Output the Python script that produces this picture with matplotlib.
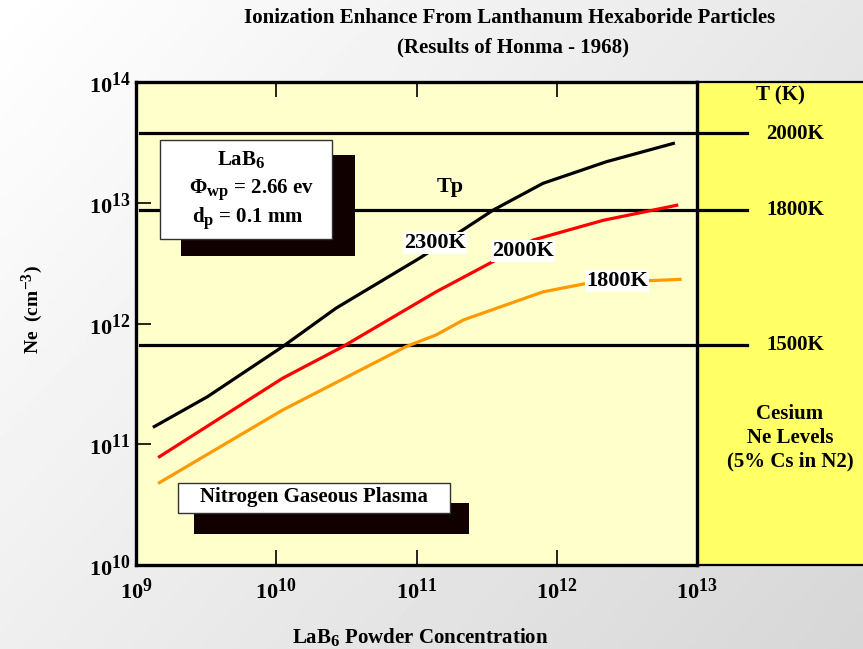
import numpy as np
import matplotlib
matplotlib.use("Agg")
from matplotlib import pyplot as plt
from matplotlib.patches import Rectangle
import matplotlib._mathtext as mt

mt.SHRINK_FACTOR = 0.8  # bigger super/subscripts like the original slide

plt.rcParams['font.family'] = ['Liberation Serif', 'DejaVu Serif']
plt.rcParams['font.weight'] = 'bold'
plt.rcParams['mathtext.fontset'] = 'custom'
plt.rcParams['mathtext.rm'] = 'Liberation Serif:bold'
plt.rcParams['mathtext.it'] = 'Liberation Serif:bold'
plt.rcParams['mathtext.bf'] = 'Liberation Serif:bold'

# LaB6 powder concentration vs electron density
x_2300 = [1.35e9, 3.24e9, 1.11e10, 2.67e10, 1.05e11, 3.53e11, 8.0e11, 2.27e12, 6.78e12]
ne_2300 = [1.40e11, 2.48e11, 6.43e11, 1.34e12, 3.47e12, 8.71e12, 1.45e13, 2.19e13, 3.10e13]

x_2000 = [1.47e9, 1.11e10, 2.98e10, 1.38e11, 3.34e11, 6.81e11, 2.15e12, 7.16e12]
ne_2000 = [7.89e10, 3.52e11, 6.43e11, 1.83e12, 3.16e12, 4.92e12, 7.16e12, 9.53e12]

x_1800 = [1.47e9, 1.11e10, 8.41e10, 1.38e11, 2.16e11, 8.0e11, 1.64e12, 7.57e12]
ne_1800 = [4.81e10, 1.92e11, 6.43e11, 8.04e11, 1.07e12, 1.83e12, 2.15e12, 2.32e12]

# cesium Ne levels (horizontal reference lines)
cs_temps = ["2000K", "1800K", "1500K"]
cs_levels = [3.8e13, 8.7e12, 6.6e11]

x_ticks = [1e9, 1e10, 1e11, 1e12, 1e13]
y_ticks = [1e10, 1e11, 1e12, 1e13, 1e14]
x_ticklabels = ["$10^{9}$", "$10^{10}$", "$10^{11}$", "$10^{12}$", "$10^{13}$"]
y_ticklabels = ["$10^{10}$", "$10^{11}$", "$10^{12}$", "$10^{13}$", "$10^{14}$"]

W, H = 863, 649
fig = plt.figure(figsize=(W / 100, H / 100), dpi=100)

# background gradient + yellow side panel
bg = fig.add_axes([0, 0, 1, 1])
gx, gy = np.meshgrid(np.linspace(0, 1, 200), np.linspace(0, 1, 200))
grad = 1 - 0.16 * (0.6 * gx + 0.4 * gy)
bg.imshow(grad, cmap='gray', vmin=0, vmax=1, extent=[0, W, H, 0], aspect='auto')
bg.add_patch(Rectangle((697, 82), 180, 483, facecolor='#FFFF66', edgecolor='black', lw=1.6))
bg.set_xlim(0, W)
bg.set_ylim(H, 0)
bg.axis('off')

ax = fig.add_axes([136 / W, (H - 565) / H, 561 / W, 483 / H])
ax.set_facecolor('#FFFFCC')
ax.set_xscale('log')
ax.set_yscale('log')
ax.set_xlim(1e9, 1e13)
ax.set_ylim(1e10, 1e14)

for lvl in cs_levels:
    ax.axhline(lvl, xmin=0.007, xmax=1.089, color='black', lw=2.3, clip_on=False, zorder=2)

ax.plot(x_2300, ne_2300, color='black', lw=2.3, zorder=3)
ax.plot(x_2000, ne_2000, color='#FF0000', lw=2.3, zorder=3)
ax.plot(x_1800, ne_1800, color='#FF9900', lw=2.3, zorder=3)

ax.set_xticks(x_ticks, x_ticklabels)
ax.set_yticks(y_ticks, y_ticklabels)
ax.minorticks_off()
ax.tick_params(axis='x', which='major', direction='in', top=True, length=11, width=1.2,
               labelsize=16, pad=9)
ax.tick_params(axis='y', which='major', direction='in', length=11, width=1.2,
               labelsize=16, pad=4)
for s in ax.spines.values():
    s.set_linewidth(2.4)

# overlay for annotations in pixel coordinates
ov = fig.add_axes([0, 0, 1, 1])
ov.set_xlim(0, W)
ov.set_ylim(H, 0)
ov.axis('off')

ov.text(510, 18, "Ionization Enhance From Lanthanum Hexaboride Particles",
        ha='center', va='center', fontsize=15)
ov.text(513, 47, "(Results of Honma - 1968)", ha='center', va='center', fontsize=15)
ov.text(32, 310, "Ne  (cm$^{-3}$)", rotation=90, ha='center', va='center', fontsize=14)
ov.text(420, 637, "LaB$_{6}$ Powder Concentration", ha='center', va='center', fontsize=15)

# LaB6 box with shadow
ov.add_patch(Rectangle((181, 155), 174, 101, facecolor='#110000', edgecolor='none'))
ov.add_patch(Rectangle((160, 140), 172, 99, facecolor='white', edgecolor='#333333', lw=1))
ov.text(241, 159, "LaB$_{6}$", ha='center', va='center', fontsize=15)
ov.text(252, 190, "Φ$_{\\mathrm{wp}}$ = 2.66 ev", ha='center', va='center', fontsize=15)
ov.text(248, 218, "d$_{\\mathrm{p}}$ = 0.1 mm", ha='center', va='center', fontsize=15)

# nitrogen plasma box with shadow
ov.add_patch(Rectangle((194, 503), 275, 31, facecolor='#110000', edgecolor='none'))
ov.add_patch(Rectangle((178, 483), 272, 30, facecolor='white', edgecolor='#333333', lw=1))
ov.text(314, 497, "Nitrogen Gaseous Plasma", ha='center', va='center', fontsize=15)

# curve labels
ov.text(450, 187, "Tp", ha='center', va='center', fontsize=16)
for label, (px, py) in zip(["2300K", "2000K", "1800K"], [(435, 243), (523, 251), (617, 281)]):
    ov.text(px, py, label, ha='center', va='center', fontsize=16,
            bbox=dict(facecolor='white', edgecolor='none', pad=1))

# right panel labels
ov.text(780, 95, "T (K)", ha='center', va='center', fontsize=15)
for label, py in zip(cs_temps, [134, 210, 345]):
    ov.text(795, py, label, ha='center', va='center', fontsize=15)
ov.text(790, 438, "Cesium\nNe Levels\n(5% Cs in N2)", ha='center', va='center',
        fontsize=15, linespacing=1.25)

fig.savefig("out.png", dpi=100)
